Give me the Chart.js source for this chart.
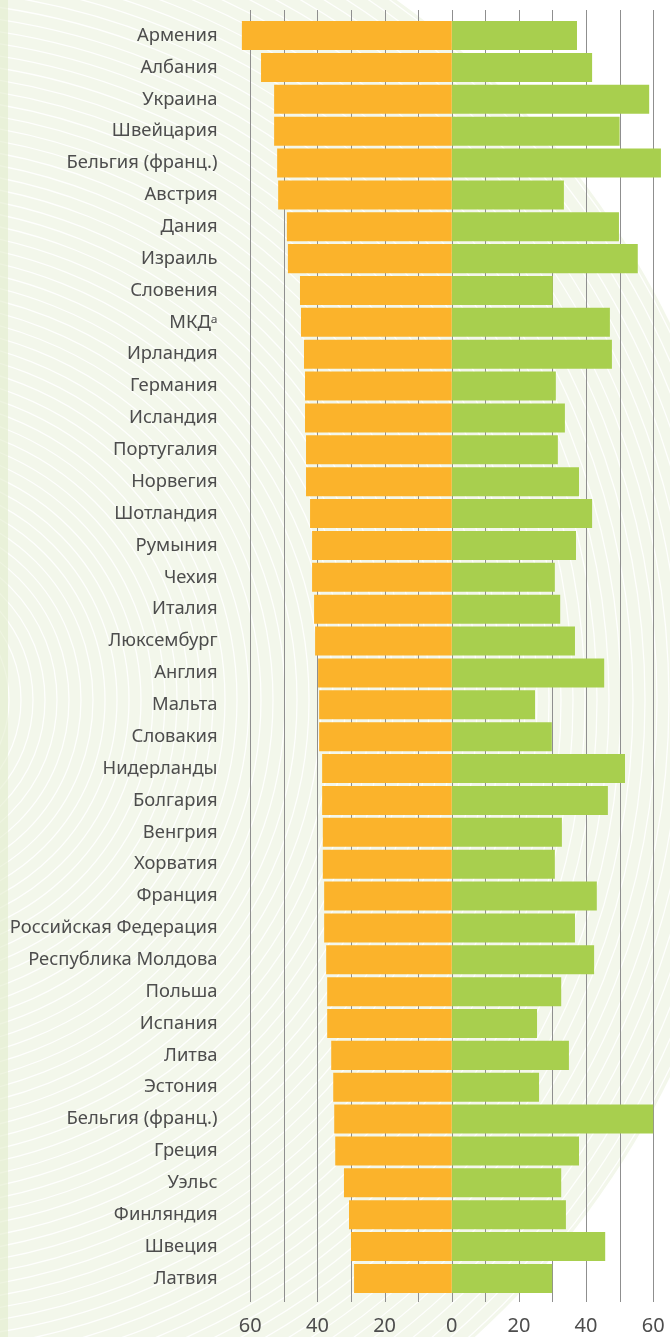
<!DOCTYPE html>
<html>
<head>
<meta charset="utf-8">
<script src="https://cdn.jsdelivr.net/npm/chart.js@4"></script>
<style>
  html, body { margin: 0; padding: 0; background: #fff; }
  #wrap { width: 670px; height: 1337px; position: relative; }
</style>
</head>
<body>
<div id="wrap"><canvas id="chart"></canvas></div>
<script>
// Categories (top to bottom)
const countries = [
  'Армения', 'Албания', 'Украина', 'Швейцария', 'Бельгия (франц.)', 'Австрия',
  'Дания', 'Израиль', 'Словения', 'МКДᵃ', 'Ирландия', 'Германия', 'Исландия',
  'Португалия', 'Норвегия', 'Шотландия', 'Румыния', 'Чехия', 'Италия',
  'Люксембург', 'Англия', 'Мальта', 'Словакия', 'Нидерланды', 'Болгария',
  'Венгрия', 'Хорватия', 'Франция', 'Российская Федерация', 'Республика Молдова',
  'Польша', 'Испания', 'Литва', 'Эстония', 'Бельгия (франц.)', 'Греция',
  'Уэльс', 'Финляндия', 'Швеция', 'Латвия'
];

// Orange series (drawn to the left)
const leftSeries = [
  62.5, 56.8, 52.9, 52.9, 52.0, 51.7, 49.1, 48.8, 45.2, 44.9,
  44.0, 43.7, 43.7, 43.4, 43.4, 42.2, 41.6, 41.6, 41.0, 40.7,
  39.8, 39.5, 39.5, 38.6, 38.6, 38.4, 38.4, 38.0, 38.0, 37.4,
  37.1, 37.1, 35.9, 35.3, 35.0, 34.7, 32.1, 30.6, 30.0, 29.1
];

// Green series (drawn to the right)
const rightSeries = [
  37.3, 41.8, 58.8, 50.0, 62.3, 33.4, 49.8, 55.4, 30.1, 47.1,
  47.7, 31.0, 33.7, 31.6, 37.9, 41.8, 37.0, 30.7, 32.3, 36.7,
  45.4, 24.8, 29.8, 51.6, 46.5, 32.8, 30.7, 43.2, 36.7, 42.4,
  32.6, 25.4, 34.9, 26.0, 60.0, 37.9, 32.6, 34.0, 45.7, 29.9
];

// Axis ticks
const gridTicks = [-60, -50, -40, -30, -20, -10, 0, 10, 20, 30, 40, 50, 60];
const labelTicks = [-60, -40, -20, 0, 20, 40, 60];

const ORANGE = '#fbb32b';
const GREEN = '#a8cf4e';
const TEXT = '#4d4d4d';

// Background: pale disc with white concentric arcs
const backgroundPlugin = {
  id: 'bg',
  beforeDraw(chart) {
    const ctx = chart.ctx;
    const w = chart.width, h = chart.height;
    ctx.save();
    ctx.fillStyle = '#ffffff';
    ctx.fillRect(0, 0, w, h);
    ctx.beginPath();
    ctx.arc(-103, 700, 860, 0, Math.PI * 2);
    ctx.fillStyle = '#f3f7eb';
    ctx.fill();
    ctx.clip();
    ctx.strokeStyle = 'rgba(255,255,255,0.9)';
    ctx.lineWidth = 1.3;
    for (let r = 40; r < 860; r += 12) {
      ctx.beginPath();
      ctx.arc(-103, 700, r, 0, Math.PI * 2);
      ctx.stroke();
    }
    ctx.restore();
    ctx.save();
    ctx.fillStyle = 'rgba(226,236,205,0.6)';
    ctx.fillRect(0, 0, 8, h);
    ctx.restore();
  }
};

// Vertical grid lines, a bit longer than the plot area
const gridPlugin = {
  id: 'grid',
  beforeDatasetsDraw(chart) {
    const ctx = chart.ctx;
    const x = chart.scales.x;
    ctx.save();
    ctx.strokeStyle = '#8f8f8f';
    ctx.lineWidth = 1;
    gridTicks.forEach(v => {
      const px = Math.round(x.getPixelForValue(v)) + 0.5;
      ctx.beginPath();
      ctx.moveTo(px, 10);
      ctx.lineTo(px, 1302);
      ctx.stroke();
    });
    ctx.restore();
  }
};

const ctx = document.getElementById('chart').getContext('2d');
new Chart(ctx, {
  type: 'bar',
  data: {
    labels: countries,
    datasets: [
      {
        data: leftSeries.map(v => -v),
        backgroundColor: ORANGE,
        borderWidth: 0,
        barPercentage: 1,
        categoryPercentage: 0.91
      },
      {
        data: rightSeries,
        backgroundColor: GREEN,
        borderWidth: 0,
        barPercentage: 1,
        categoryPercentage: 0.91
      }
    ]
  },
  options: {
    indexAxis: 'y',
    responsive: true,
    maintainAspectRatio: false,
    animation: false,
    layout: { padding: { top: 19.6, right: 0, left: 0, bottom: 0 } },
    plugins: {
      legend: { display: false },
      tooltip: { enabled: false }
    },
    scales: {
      x: {
        stacked: true,
        min: -65,
        max: 65,
        grid: { display: false, drawTicks: false },
        border: { display: false },
        afterBuildTicks: (scale) => {
          scale.ticks = labelTicks.map(v => ({ value: v }));
        },
        afterFit: (scale) => {
          scale.height = 42.6;
          scale.paddingLeft = 0;
          scale.paddingRight = 0;
        },
        ticks: {
          autoSkip: false,
          maxRotation: 0,
          padding: 20,
          color: TEXT,
          font: { family: 'Noto Sans', size: 20 },
          callback: (v) => Math.abs(v)
        }
      },
      y: {
        stacked: true,
        grid: { display: false, drawTicks: false },
        border: { display: false },
        afterFit: (scale) => {
          scale.width = 233.5;
          scale.paddingTop = 0;
          scale.paddingBottom = 0;
        },
        ticks: {
          autoSkip: false,
          padding: 16,
          color: TEXT,
          font: { family: 'Noto Sans', size: 18.4 }
        }
      }
    }
  },
  plugins: [backgroundPlugin, gridPlugin]
});
</script>
</body>
</html>
